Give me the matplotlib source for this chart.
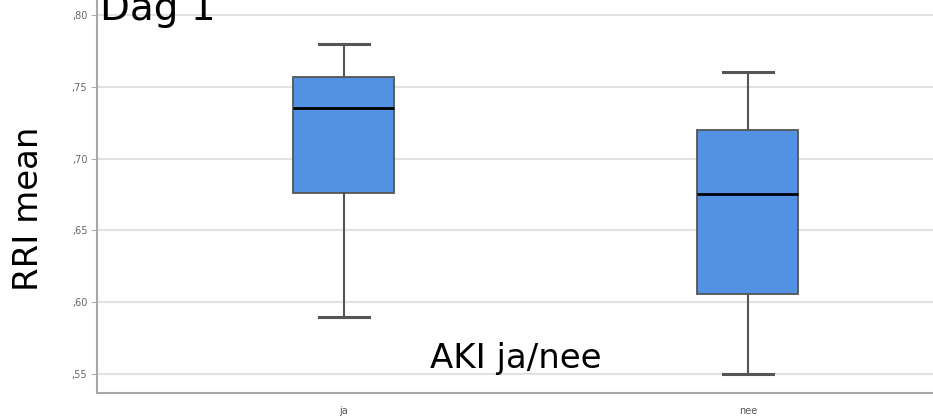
import matplotlib
matplotlib.use("Agg")
import matplotlib.pyplot as plt

# box statistics
groups = ["ja", "nee"]
whisker_low = [0.590, 0.550]
q1 = [0.676, 0.606]
median = [0.735, 0.675]
q3 = [0.757, 0.720]
whisker_high = [0.780, 0.760]
yticks = [0.55, 0.60, 0.65, 0.70, 0.75, 0.80]
ytick_labels = [",55", ",60", ",65", ",70", ",75", ",80"]

stats = []
for i, g in enumerate(groups):
    stats.append({"label": g, "whislo": whisker_low[i], "q1": q1[i], "med": median[i],
                  "q3": q3[i], "whishi": whisker_high[i], "fliers": []})

fig = plt.figure(figsize=(9.33, 4.19), dpi=100)
ax = fig.add_axes([97/933, 26/419, 836/933, 393/419])

ax.bxp(stats, positions=[1, 2], widths=0.25, patch_artist=True, showfliers=False,
       boxprops=dict(facecolor="#5392e2", edgecolor="#555555", linewidth=1.3),
       medianprops=dict(color="black", linewidth=2),
       whiskerprops=dict(color="#555555", linewidth=1.5),
       capprops=dict(color="#555555", linewidth=2.2), capwidths=0.125, zorder=3)

ax.set_xlim(0.389, 2.458)
ax.set_ylim(0.5368, 0.8104)
ax.set_yticks(yticks)
ax.set_yticklabels(ytick_labels)
ax.set_xticks([1, 2])
ax.set_xticklabels(groups)
ax.yaxis.grid(True, color="#e2e2e2", linewidth=1.5, zorder=0)
ax.set_axisbelow(True)
for s in ["top", "right"]:
    ax.spines[s].set_visible(False)
for s in ["left", "bottom"]:
    ax.spines[s].set_color("#a8a8a8")
    ax.spines[s].set_linewidth(1.5)
ax.tick_params(axis="y", length=4, color="#b0b0b0", labelsize=7, labelcolor="#666666", pad=3)
ax.tick_params(axis="x", length=0, labelsize=7, labelcolor="#555555", pad=9)

fig.text(100/933, 1 - 20/419, "Dag 1", fontsize=28, va="baseline", ha="left")
fig.text(516/933, 1 - 368/419, "AKI ja/nee", fontsize=24.5, va="baseline", ha="center")
fig.text(29/933, 1 - 209/419, "RRI mean", fontsize=24.5, rotation=90, va="center", ha="center")

fig.savefig("out.png", dpi=100)
